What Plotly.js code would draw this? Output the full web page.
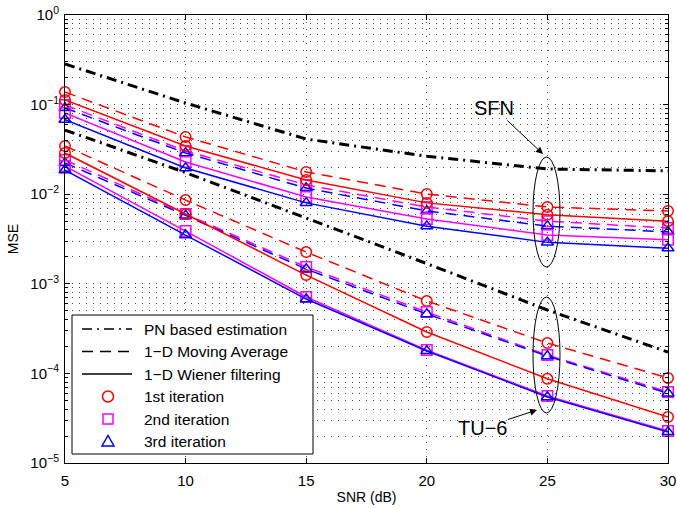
<!DOCTYPE html>
<html><head><meta charset="utf-8">
<script src="https://cdn.plot.ly/plotly-3.0.1.min.js"></script>
<style>html,body{margin:0;padding:0;background:#fff}#chart{width:677px;height:508px}</style>
</head><body><div id="chart"></div>
<script>
// ---- data ----
const snr = [5, 10, 15, 20, 25, 30];

const sfnPN    = [0.284, 0.104, 0.0413, 0.0265, 0.0191, 0.0182];
const sfnMA1   = [0.138, 0.0435, 0.0177, 0.01005, 0.0072, 0.0065];
const sfnMA2   = [0.099, 0.0303, 0.0127, 0.0072, 0.0050, 0.0042];
const sfnMA3   = [0.0917, 0.0288, 0.0117, 0.0065, 0.0044, 0.0038];
const sfnWF1   = [0.1125, 0.0345, 0.0144, 0.0080, 0.0059, 0.0050];
const sfnWF2   = [0.0806, 0.0229, 0.0093, 0.0053, 0.0035, 0.0031];
const sfnWF3   = [0.068, 0.0196, 0.0080, 0.0044, 0.0029, 0.0025];

const tuPN     = [0.052, 0.0174, 0.00542, 0.00168, 0.00051, 0.000173];
const tuMA1    = [0.0345, 0.0086, 0.00226, 0.000643, 0.000218, 0.000089];
const tuMA2    = [0.0241, 0.0060, 0.00154, 0.000484, 0.00016, 0.000062];
const tuMA3    = [0.0223, 0.0058, 0.00146, 0.00046, 0.000156, 0.000060];
const tuWF1    = [0.0288, 0.0060, 0.00125, 0.00029, 0.000087, 0.0000326];
const tuWF2    = [0.0206, 0.00388, 0.000713, 0.000182, 0.000056, 0.0000228];
const tuWF3    = [0.0186, 0.0035, 0.000676, 0.000178, 0.0000545, 0.0000222];

const xTickVals = [5, 10, 15, 20, 25, 30];
const yTickVals = [1e-5, 1e-4, 1e-3, 1e-2, 1e-1, 1];
const yTickText = ['10<sup>\u22125</sup>', '10<sup>\u22124</sup>', '10<sup>\u22123</sup>',
                   '10<sup>\u22122</sup>', '10<sup>\u22121</sup>', '10<sup>0</sup>'];
const legendLabels = ['PN based estimation', '1\u2212D Moving Average', '1\u2212D Wiener filtering',
                      '1st iteration', '2nd iteration', '3rd iteration'];
const groupLabels = ['SFN', 'TU\u22126'];
const xTitle = 'SNR (dB)';
const yTitle = 'MSE';

// ---- styles ----
const FONT = 'Liberation Sans, Arial, Helvetica, sans-serif';
const RED = '#ff0000', MAG = '#ff00ff', BLUE = '#0000ff';
const DASHDOT = '10px,5px,2px,5px';
const DASHED = '11px,7px';
const MSIZE = 10.5;

function pn(y) {
  return {x: snr, y: y, mode: 'lines', showlegend: false, hoverinfo: 'skip',
          line: {color: '#000', width: 3, dash: DASHDOT}};
}
function ser(y, color, dash, symbol) {
  return {x: snr, y: y, mode: 'lines+markers', showlegend: false, cliponaxis: false,
          line: {color: color, width: 1.5, dash: dash},
          marker: {symbol: symbol, size: MSIZE, color: color, line: {color: color, width: 1.5}}};
}

const traces = [
  pn(sfnPN),
  ser(sfnMA1, RED, DASHED, 'circle-open'),
  ser(sfnMA2, MAG, DASHED, 'square-open'),
  ser(sfnMA3, BLUE, DASHED, 'triangle-up-open'),
  ser(sfnWF1, RED, 'solid', 'circle-open'),
  ser(sfnWF2, MAG, 'solid', 'square-open'),
  ser(sfnWF3, BLUE, 'solid', 'triangle-up-open'),
  pn(tuPN),
  ser(tuMA1, RED, DASHED, 'circle-open'),
  ser(tuMA2, MAG, DASHED, 'square-open'),
  ser(tuMA3, BLUE, DASHED, 'triangle-up-open'),
  ser(tuWF1, RED, 'solid', 'circle-open'),
  ser(tuWF2, MAG, 'solid', 'square-open'),
  ser(tuWF3, BLUE, 'solid', 'triangle-up-open')
];

// minor log ticks
const minorVals = [];
for (let e = -5; e < 0; e++) for (let m = 2; m <= 9; m++) minorVals.push(m * Math.pow(10, e));

// plot area geometry (pixels)
const ML = 65, MT = 15, MR = 9, MB = 45, W = 677, H = 508;
const PW = W - ML - MR, PH = H - MT - MB;
const px = v => (v - ML) / PW;
const py = v => (MT + PH - v) / PH;

const GRIDDASH = '1px,6px';
const GRIDCOL = '#4a4a4a';

const shapes = [
  // ellipses around the groups at SNR = 25 dB
  {type: 'circle', xref: 'paper', yref: 'paper', x0: px(533), x1: px(560), y0: py(267), y1: py(157),
   line: {color: '#000', width: 1}, layer: 'above'},
  {type: 'circle', xref: 'paper', yref: 'paper', x0: px(533), x1: px(560), y0: py(413), y1: py(297),
   line: {color: '#000', width: 1}, layer: 'above'},
  // legend box
  {type: 'rect', xref: 'paper', yref: 'paper', x0: px(72), x1: px(313), y0: py(454), y1: py(315),
   line: {color: '#000', width: 1}, fillcolor: '#fff', layer: 'above'}
];
const rowY = [329, 351.5, 374, 396.5, 419, 441.5];
const lineDash = [DASHDOT, DASHED, 'solid'];
for (let i = 0; i < 3; i++) {
  shapes.push({type: 'line', xref: 'paper', yref: 'paper', x0: px(82), x1: px(132), y0: py(rowY[i]), y1: py(rowY[i]),
               line: {color: '#000', width: 1.5, dash: lineDash[i]}});
}
const mx = px(108);
shapes.push({type: 'circle', xref: 'paper', yref: 'paper', xsizemode: 'pixel', ysizemode: 'pixel',
             xanchor: mx, yanchor: py(rowY[3]), x0: -5.5, x1: 5.5, y0: -5.5, y1: 5.5,
             line: {color: RED, width: 1.5}});
shapes.push({type: 'rect', xref: 'paper', yref: 'paper', xsizemode: 'pixel', ysizemode: 'pixel',
             xanchor: mx, yanchor: py(rowY[4]), x0: -5, x1: 5, y0: -5, y1: 5,
             line: {color: MAG, width: 1.5}});
shapes.push({type: 'path', xref: 'paper', yref: 'paper', xsizemode: 'pixel', ysizemode: 'pixel',
             xanchor: mx, yanchor: py(rowY[5]), path: 'M-6,-4.5 L6,-4.5 L0,6 Z',
             line: {color: BLUE, width: 1.5}});

const annotations = legendLabels.map((t, i) => ({
  text: t, xref: 'paper', yref: 'paper', x: px(142), y: py(rowY[i]), xanchor: 'left', yanchor: 'middle',
  showarrow: false, font: {family: FONT, size: 15.5, color: '#000'}
}));
// group labels with arrows pointing at the ellipses
annotations.push({text: groupLabels[0], xref: 'paper', yref: 'paper', x: px(543), y: py(154),
                  ax: -49, ay: -46, showarrow: true, arrowhead: 2, arrowsize: 1.4, arrowwidth: 1,
                  arrowcolor: '#000', font: {family: FONT, size: 20, color: '#000'}});
annotations.push({text: groupLabels[1], xref: 'paper', yref: 'paper', x: px(537), y: py(410),
                  ax: -55, ay: 18, showarrow: true, arrowhead: 2, arrowsize: 1.4, arrowwidth: 1,
                  arrowcolor: '#000', font: {family: FONT, size: 20, color: '#000'}});

const layout = {
  width: W, height: H,
  margin: {l: ML, r: MR, t: MT, b: MB},
  paper_bgcolor: '#fff', plot_bgcolor: '#fff',
  font: {family: FONT, size: 15, color: '#000'},
  showlegend: false,
  xaxis: {
    range: [5, 30], tickmode: 'array', tickvals: xTickVals, ticks: 'inside', ticklen: 5,
    tickcolor: '#000', showline: true, linecolor: '#000', linewidth: 1, mirror: 'ticks',
    showgrid: true, gridcolor: GRIDCOL, gridwidth: 1, griddash: GRIDDASH, zeroline: false,
    ticklabelstandoff: 4,
    tickfont: {family: FONT, size: 15, color: '#000'},
    title: {text: xTitle, font: {family: FONT, size: 14, color: '#000'}, standoff: 4}
  },
  yaxis: {
    type: 'log', range: [-5, 0], tickmode: 'array', tickvals: yTickVals, ticktext: yTickText,
    ticks: 'inside', ticklen: 5, tickcolor: '#000', showline: true, linecolor: '#000', linewidth: 1,
    mirror: 'ticks', showgrid: true, gridcolor: GRIDCOL, gridwidth: 1, griddash: GRIDDASH, zeroline: false,
    ticklabelstandoff: 2,
    tickfont: {family: FONT, size: 15, color: '#000'},
    minor: {tickmode: 'array', tickvals: minorVals, ticks: 'inside', ticklen: 3, tickcolor: '#000',
            showgrid: true, gridcolor: GRIDCOL, gridwidth: 1, griddash: GRIDDASH},
    title: {text: yTitle, font: {family: FONT, size: 14, color: '#000'}, standoff: 8}
  },
  shapes: shapes,
  annotations: annotations
};

Plotly.newPlot('chart', traces, layout, {staticPlot: true, displayModeBar: false});
</script>
</body></html>
